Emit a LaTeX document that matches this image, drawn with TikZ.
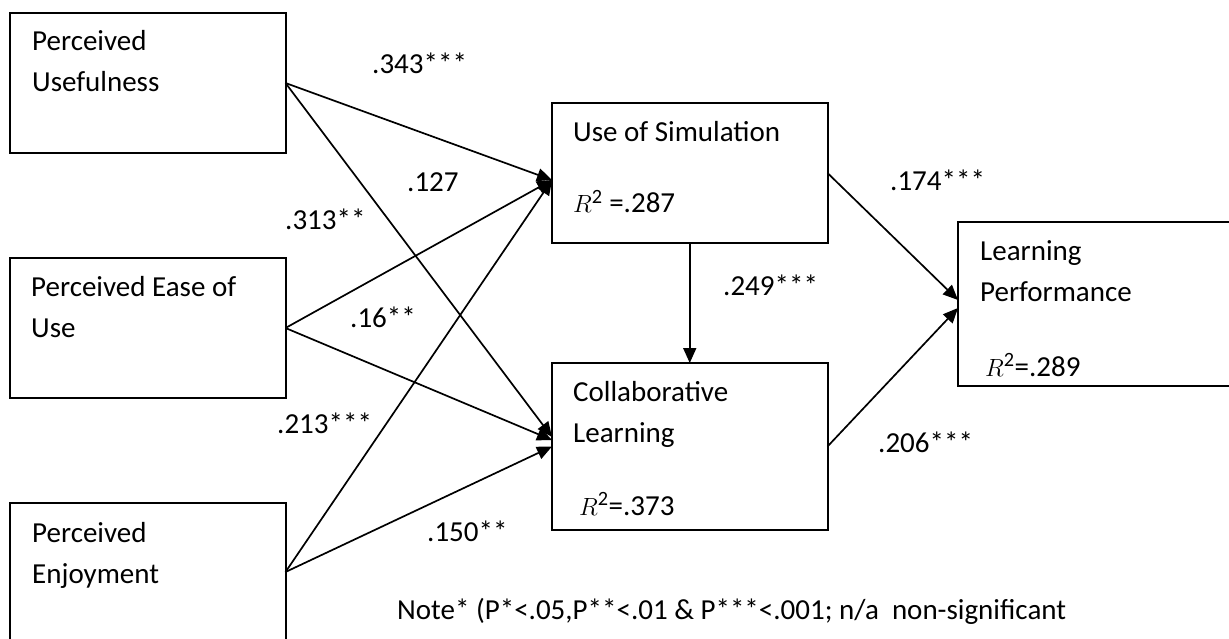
\documentclass[tikz,border=0pt]{standalone}
\usepackage{fontspec}
\setmainfont{Carlito}
\usetikzlibrary{arrows.meta}
\begin{document}
\begin{tikzpicture}[x=1pt,y=-1pt,
  box/.style={draw=black, line width=2pt, rectangle, inner sep=0pt, outer sep=0pt, anchor=north west},
  txt/.style={anchor=base west, inner sep=0pt, font=\fontsize{29}{41}\selectfont, align=left},
  link/.style={draw=black, line width=1.7pt, -{Triangle[length=15pt,width=13pt]}}]
\useasboundingbox (0,0) rectangle (1229,639);
\clip (0,0) rectangle (1229,639);
\fill[white] (0,0) rectangle (1229,639);

% constructs
\node[box, minimum width=275.5pt, minimum height=140pt] (pu) at (10,13) {};
\node[box, minimum width=275.5pt, minimum height=140pt] (peou) at (10,258) {};
\node[box, minimum width=275.5pt, minimum height=138pt] (pe) at (10,503) {};
\node[box, minimum width=275.5pt, minimum height=140pt] (uos) at (552,103) {};
\node[box, minimum width=275.5pt, minimum height=167pt] (cl) at (552,363) {};
\node[box, minimum width=350pt, minimum height=164pt] (lp) at (958,222) {};

% box captions (anchored at the baseline of the last line)
\node[txt] (pu-t) at (32,92) {Perceived\\Usefulness};
\node[txt] (peou-t) at (31,337) {Perceived Ease of\\Use};
\node[txt] (pe-t) at (32,583) {Perceived\\Enjoyment};
\node[txt] (uos-t) at (573,142) {Use of Simulation};
\node[txt] (uos-r) at (573,213) {$R$\textsuperscript{2} =.287};
\node[txt] (cl-t) at (573,442) {Collaborative\\Learning};
\node[txt] (cl-r) at (579,515) {$R$\textsuperscript{2}=.373};
\node[txt] (lp-t) at (980,301) {Learning\\Performance};
\node[txt] (lp-r) at (985,376) {$R$\textsuperscript{2}=.289};

% paths
\draw[link] (pu.east) -- ([yshift=-7pt]uos.west);
\draw[link] (pu.east) -- ([yshift=9.5pt]cl.west);
\draw[link] (peou.east) -- ([yshift=-7pt]uos.west);
\draw[link] (peou.east) -- ([yshift=6.5pt]cl.west);
\draw[link] (pe.east) -- ([yshift=-7pt]uos.west);
\draw[link] (pe.east) -- ([yshift=0pt]cl.west);
\draw[link] (uos.south) -- (cl.north);
\draw[link] (uos.east) -- ([yshift=4pt]lp.west);
\draw[link] (cl.east) -- ([yshift=-4pt]lp.west);

% path coefficients
\node[txt] (c1) at (372,74) {.343***};
\node[txt] (c2) at (407,192) {.127};
\node[txt] (c3) at (285,230) {.313**};
\node[txt] (c4) at (350,327) {.16**};
\node[txt] (c5) at (277,433) {.213***};
\node[txt] (c6) at (427,541) {.150**};
\node[txt] (c7) at (890,191) {.174***};
\node[txt] (c8) at (723,295) {.249***};
\node[txt] (c9) at (878,452) {.206***};

\node[txt] (note) at (397,619) {Note* (P*<.05,P**<.01 \& P***<.001; n/a\ \ non-significant};
\end{tikzpicture}
\end{document}
